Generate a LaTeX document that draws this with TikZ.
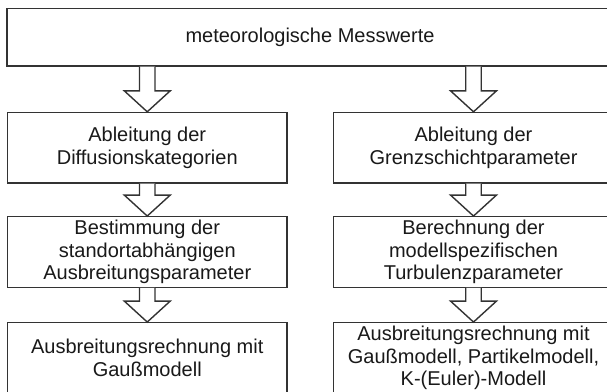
\documentclass[tikz,border=0pt]{standalone}
\usepackage{fontspec}
\setmainfont{Liberation Sans}
\usetikzlibrary{calc}
\newcommand{\blockarrow}[2]{%
  \draw[arr] let \p1 = (#2.north), \p2 = (#1.south) in
    (\x1-7.75pt,\y2) -- (\x1-7.75pt,\y1+21pt) -- (\x1-23pt,\y1+21pt) -- (\p1)
    -- (\x1+23pt,\y1+21pt) -- (\x1+7.75pt,\y1+21pt) -- (\x1+7.75pt,\y2);}
\begin{document}
\begin{tikzpicture}[x=1pt,y=-1pt,
  box/.style={draw=black!80, line width=1.4pt, fill=white, rectangle, inner sep=0pt,
    align=center, font=\fontsize{20}{22.5}\selectfont, text=black!90},
  colbox/.style={box, minimum width=279.5pt, minimum height=70.5pt},
  arr/.style={draw=black!80, line width=1.4pt, fill=white, line join=miter}]
\useasboundingbox (0,0) rectangle (607,391);
\fill[white] (0,0) rectangle (607,391);
\clip (0,0) rectangle (607,391);
\node[box, minimum width=606pt, minimum height=57.5pt] (top) at (310,37.25) {meteorologische Messwerte};
\node[colbox] (l1) at (147.25,147.75) {Ableitung der\\Diffusionskategorien};
\node[colbox] (r1) at (473.5,147.75) {Ableitung der\\Grenzschichtparameter};
\node[colbox] (l2) at (147.25,252) {Bestimmung der\\standortabhängigen\\Ausbreitungsparameter};
\node[colbox] (r2) at (473.5,252) {Berechnung der\\modellspezifischen\\Turbulenzparameter};
\node[colbox] (l3) at (147.25,358) {Ausbreitungsrechnung mit\\Gaußmodell};
\node[colbox] (r3) at (473.5,358) {Ausbreitungsrechnung mit\\Gaußmodell, Partikelmodell,\\K-(Euler)-Modell};
\blockarrow{top}{l1}
\blockarrow{top}{r1}
\blockarrow{l1}{l2}
\blockarrow{r1}{r2}
\blockarrow{l2}{l3}
\blockarrow{r2}{r3}
\end{tikzpicture}
\end{document}
